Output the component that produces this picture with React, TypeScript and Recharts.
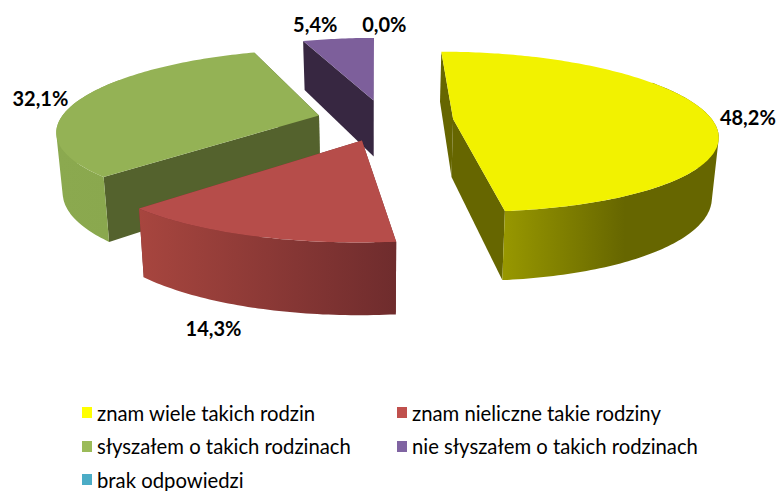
import React from 'react';
import { PieChart, Pie, Legend } from 'recharts';

const categories = [
  'znam wiele takich rodzin',
  'znam nieliczne takie rodziny',
  'słyszałem o takich rodzinach',
  'nie słyszałem o takich rodzinach',
  'brak odpowiedzi',
];
const values = [48.2, 14.3, 32.1, 5.4, 0.0];
const legendColors = ['#FFFF00', '#C0504D', '#9BBB59', '#8064A2', '#4BACC6'];
const topColors = ['#F2F200', '#B64D4A', '#94B255', '#7D5F9B', '#4BACC6'];
const cutColors = ['#666600', '#7A3030', '#54622D', '#372741', '#2A6070'];
const wallFrom = ['#999900', '#A8463F', '#8BA94F', '#7D5F9B', '#4BACC6'];
const wallTo = ['#666600', '#6F2C2D', '#8AA84E', '#7D5F9B', '#4BACC6'];
const wallSpan = [[500, 625], [136, 396], [58, 110], [0, 1], [0, 1]];
const labelNudge = [[40, 2], [-37, 92], [-40, -1], [-23, -15], [1, -14]];

const chartData = categories.map((name, i) => ({ name, value: values[i], idx: i })).reverse();

const VP_X = 376;
const VP_Y = -370;
const PLANE_H = 488;
const DIST = 1620;
const DEPTH = 58;
const SHRINK = 0.98;
const EXPLODE = 68;
const WIDE_POWER = 1.12;

const rad = (d: number) => (d * Math.PI) / 180;

type Pt = { x: number; y: number; u: number };

function project(X: number, Z: number): Pt {
  const u = 1 / (1 - Z / DIST);
  return { x: VP_X + X * Math.pow(u, WIDE_POWER), y: VP_Y + PLANE_H * u, u };
}
function lower(p: Pt): Pt {
  return { x: VP_X + (p.x - VP_X) * SHRINK, y: p.y + DEPTH * p.u, u: p.u };
}
const toPath = (pts: { x: number; y: number }[]) =>
  'M' + pts.map((p) => `${p.x.toFixed(1)},${p.y.toFixed(1)}`).join('L') + 'Z';

function oriented(pts: Pt[]) {
  let area = 0;
  pts.forEach((p, i) => {
    const q = pts[(i + 1) % pts.length];
    area += p.x * q.y - q.x * p.y;
  });
  return area < 0 ? pts.slice().reverse() : pts;
}

function apexOf(cx: number, cy: number, midClock: number) {
  return {
    X: cx - VP_X + EXPLODE * Math.sin(rad(midClock)),
    Z: cy - 118 - EXPLODE * Math.cos(rad(midClock)),
  };
}
function rimPoint(a: { X: number; Z: number }, r: number, clock: number) {
  return project(a.X + r * Math.sin(rad(clock)), a.Z - r * Math.cos(rad(clock)));
}
function rimArc(a: { X: number; Z: number }, r: number, from: number, to: number) {
  const pts: Pt[] = [];
  const n = Math.max(2, Math.ceil(to - from));
  for (let i = 0; i <= n; i++) pts.push(rimPoint(a, r, from + ((to - from) * i) / n));
  return pts;
}

function Slice3D(props: any) {
  const { cx, cy, outerRadius, startAngle, endAngle, idx, value } = props;
  if (!value) return null;
  const c1 = 90 - Math.max(startAngle, endAngle);
  const c2 = 90 - Math.min(startAngle, endAngle);
  const from = ((c1 % 360) + 360) % 360;
  const to = from + (c2 - c1);
  const apex = apexOf(cx, cy, (from + to) / 2);
  const pA = project(apex.X, apex.Z);
  const rim = rimArc(apex, outerRadius, from, to);
  const first = rim[0];
  const last = rim[rim.length - 1];
  const wLo = Math.max(from, 60);
  const wHi = Math.min(to, 300);
  const gradId = `wall-${idx}`;
  const wall = wHi > wLo ? rimArc(apex, outerRadius, wLo, wHi) : [];
  const quads = wall
    .slice(1)
    .map((p, k) => toPath(oriented([wall[k], p, lower(p), lower(wall[k])])))
    .join(' ');
  return (
    <g>
      <defs>
        <linearGradient id={gradId} gradientUnits="userSpaceOnUse" x1={wallSpan[idx][0]} y1={0} x2={wallSpan[idx][1]} y2={0}>
          <stop offset="0" stopColor={wallFrom[idx]} />
          <stop offset="1" stopColor={wallTo[idx]} />
        </linearGradient>
      </defs>
      <path d={toPath([pA, first, lower(first), lower(pA)])} fill={cutColors[idx]} />
      <path d={toPath([pA, last, lower(last), lower(pA)])} fill={cutColors[idx]} />
      {quads && <path d={quads} fill={`url(#${gradId})`} />}
      <path d={toPath([pA, ...rim])} fill={topColors[idx]} />
    </g>
  );
}

function SliceLabel(props: any) {
  const { cx, cy, outerRadius, midAngle, idx, value } = props;
  const i = idx ?? props.payload?.idx;
  const clock = 90 - midAngle;
  const apex = apexOf(cx, cy, clock);
  const p = rimPoint(apex, outerRadius, clock);
  return (
    <text
      x={p.x + labelNudge[i][0]}
      y={p.y + labelNudge[i][1]}
      textAnchor="middle"
      dominantBaseline="central"
      fontFamily="Lato"
      fontWeight={700}
      fontSize={20}
      fill="#000"
    >
      {value.toFixed(1).replace('.', ',') + '%'}
    </text>
  );
}

function LegendBlock() {
  return (
    <div
      style={{
        display: 'grid',
        gridTemplateColumns: '315px 320px',
        gridAutoRows: '33.5px',
        fontFamily: 'Lato',
        fontSize: 20.3,
        lineHeight: '24px',
        color: '#000',
      }}
    >
      {categories.map((name, i) => (
        <div key={name} style={{ display: 'flex', alignItems: 'center', whiteSpace: 'nowrap' }}>
          <span style={{ width: 10, height: 11, background: legendColors[i], marginRight: 5 }} />
          {name}
        </div>
      ))}
    </div>
  );
}

export default function App() {
  return (
    <div style={{ position: 'absolute', left: 0, top: 0, width: 778, height: 491, background: '#fff' }}>
      <PieChart width={778} height={491} margin={{ top: 0, right: 0, bottom: 0, left: 0 }}>
        <Pie
          data={chartData}
          dataKey="value"
          nameKey="name"
          cx={385}
          cy={125}
          innerRadius={0}
          outerRadius={258}
          startAngle={90}
          endAngle={450}
          stroke="none"
          shape={Slice3D}
          label={SliceLabel}
          labelLine={false}
          isAnimationActive={false}
        />
        <Legend
          content={LegendBlock}
          wrapperStyle={{ position: 'absolute', left: 82, top: 396, width: 680 }}
        />
      </PieChart>
    </div>
  );
}
